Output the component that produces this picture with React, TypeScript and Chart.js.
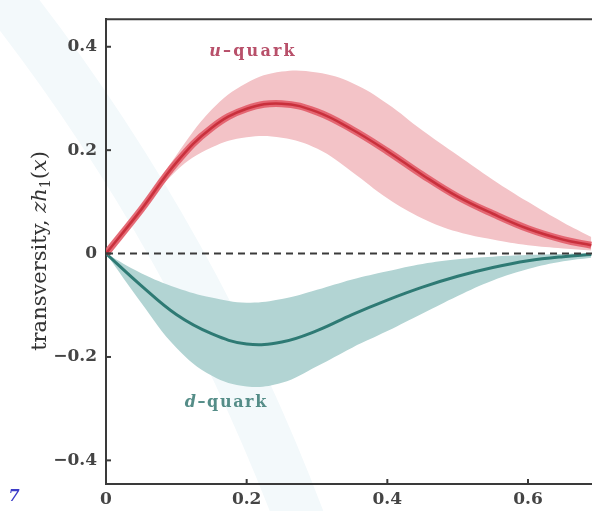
import React, { useEffect, useRef } from "react";
import { Chart, registerables } from "chart.js";

Chart.register(...registerables);

// ---- data ----
const xs = [0, 0.05, 0.1, 0.15, 0.2, 0.25, 0.3, 0.35, 0.4, 0.45, 0.5, 0.55, 0.6, 0.65, 0.69];
const uCenter = [0, 0.085, 0.176, 0.243, 0.28, 0.29, 0.274, 0.24, 0.198, 0.152, 0.11, 0.077, 0.048, 0.027, 0.016];
const uUpper = [0, 0.09, 0.19, 0.278, 0.33, 0.352, 0.35, 0.33, 0.29, 0.238, 0.19, 0.143, 0.1, 0.06, 0.032];
const uLower = [0, 0.078, 0.16, 0.205, 0.225, 0.224, 0.203, 0.158, 0.107, 0.068, 0.042, 0.027, 0.016, 0.01, 0.006];
const dCenter = [0, -0.062, -0.118, -0.155, -0.175, -0.171, -0.149, -0.118, -0.09, -0.065, -0.044, -0.027, -0.014, -0.006, -0.002];
const dUpper = [0, -0.038, -0.066, -0.085, -0.095, -0.088, -0.07, -0.05, -0.034, -0.02, -0.011, -0.006, -0.003, -0.001, 0];
const dLower = [0, -0.095, -0.182, -0.236, -0.257, -0.25, -0.218, -0.182, -0.15, -0.116, -0.082, -0.052, -0.03, -0.015, -0.008];
const xTicks = [0, 0.2, 0.4, 0.6];
const yTicks = [-0.4, -0.2, 0, 0.2, 0.4];
const xRange = [0, 0.691];
const yRange = [-0.4457, 0.4533];
const labels = [
  { lead: "u", rest: "\u2013quark", x: 0.209, y: 0.39, color: "#b8506a", spacing: 2.2 },
  { lead: "d", rest: "\u2013quark", x: 0.171, y: -0.289, color: "#558d88", spacing: 1.6 },
];

const pts = (ys: number[]) => xs.map((x, i) => ({ x, y: ys[i] }));

const fmt = (v: number) => {
  if (Math.abs(v) < 1e-9) return "0";
  const s = Math.abs(v).toFixed(1);
  return v < 0 ? "\u2212" + s : s;
};

const TICK_FONT = { family: "'DejaVu Serif', serif", size: 17, weight: "bold" as const };

const decorPlugin = {
  id: "decor",
  beforeDraw(chart: any) {
    const { ctx, width, height } = chart;
    ctx.save();
    ctx.fillStyle = "#ffffff";
    ctx.fillRect(0, 0, width, height);
    // very faint watermark stripe of the scanned slide
    ctx.strokeStyle = "#f3f9fb";
    ctx.lineWidth = 50;
    ctx.lineCap = "round";
    ctx.beginPath();
    ctx.moveTo(0, -10);
    ctx.quadraticCurveTo(190, 230, 300, 520);
    ctx.stroke();
    ctx.restore();
  },
  afterDatasetsDraw(chart: any) {
    const { ctx, chartArea, scales } = chart;
    const x = scales.x;
    const y = scales.y;
    ctx.save();
    // zero dashed line
    const y0 = y.getPixelForValue(0);
    ctx.strokeStyle = "#3a3a3a";
    ctx.lineWidth = 2;
    ctx.setLineDash([7, 5]);
    ctx.beginPath();
    ctx.moveTo(chartArea.left, y0);
    ctx.lineTo(chartArea.right, y0);
    ctx.stroke();
    ctx.setLineDash([]);
    // curve labels
    ctx.textBaseline = "middle";
    ctx.textAlign = "left";
    for (const l of labels) {
      ctx.fillStyle = l.color;
      (ctx as any).letterSpacing = l.spacing + "px";
      ctx.font = "italic bold 16px 'DejaVu Serif', serif";
      const w1 = ctx.measureText(l.lead).width;
      ctx.font = "bold 16px 'DejaVu Serif', serif";
      const w2 = ctx.measureText(l.rest).width;
      const cx = x.getPixelForValue(l.x);
      const cy = y.getPixelForValue(l.y);
      const sx = cx - (w1 + w2) / 2;
      ctx.font = "italic bold 16px 'DejaVu Serif', serif";
      ctx.fillText(l.lead, sx, cy);
      ctx.font = "bold 16px 'DejaVu Serif', serif";
      ctx.fillText(l.rest, sx + w1, cy);
    }
    (ctx as any).letterSpacing = "0px";
    ctx.restore();
  },
  afterDraw(chart: any) {
    const { ctx, chartArea, scales } = chart;
    const x = scales.x;
    const y = scales.y;
    ctx.save();
    ctx.strokeStyle = "#3a3a3a";
    ctx.lineWidth = 2;
    // top frame line
    ctx.beginPath();
    ctx.moveTo(chartArea.left, chartArea.top);
    ctx.lineTo(chartArea.right, chartArea.top);
    ctx.stroke();
    // inward tick marks
    for (const v of yTicks) {
      const py = y.getPixelForValue(v);
      ctx.beginPath();
      ctx.moveTo(chartArea.left, py);
      ctx.lineTo(chartArea.left + 5, py);
      ctx.stroke();
    }
    for (const v of xTicks) {
      const px = x.getPixelForValue(v);
      ctx.beginPath();
      ctx.moveTo(px, chartArea.bottom);
      ctx.lineTo(px, chartArea.bottom - 5);
      ctx.stroke();
    }
    // y axis title with mixed styles
    ctx.translate(41, 251);
    ctx.rotate(-Math.PI / 2);
    ctx.fillStyle = "#333";
    ctx.textBaseline = "middle";
    const F = 21;
    const parts = [
      { t: "transversity, ", f: `${F}px 'DejaVu Serif', serif`, dy: 0 },
      { t: "zh", f: `italic ${F}px 'DejaVu Serif', serif`, dy: 0 },
      { t: "1", f: `${Math.round(F * 0.68)}px 'DejaVu Serif', serif`, dy: 5 },
      { t: "(", f: `${F}px 'DejaVu Serif', serif`, dy: 0 },
      { t: "x", f: `italic ${F}px 'DejaVu Serif', serif`, dy: 0 },
      { t: ")", f: `${F}px 'DejaVu Serif', serif`, dy: 0 },
    ];
    let total = 0;
    for (const p of parts) {
      ctx.font = p.f;
      total += ctx.measureText(p.t).width;
    }
    let xx = -total / 2;
    ctx.textAlign = "left";
    for (const p of parts) {
      ctx.font = p.f;
      ctx.fillText(p.t, xx, p.dy);
      xx += ctx.measureText(p.t).width;
    }
    ctx.restore();
    // slide page number artifact
    ctx.save();
    ctx.fillStyle = "#3c3cc8";
    ctx.font = "italic bold 16px 'DejaVu Serif', serif";
    ctx.textAlign = "center";
    ctx.textBaseline = "middle";
    ctx.fillText("7", 14, 497);
    ctx.restore();
  },
};

export default function App() {
  const ref = useRef<HTMLCanvasElement>(null);
  useEffect(() => {
    document.body.style.margin = "0";
    const canvas = ref.current;
    if (!canvas) return;
    const line = (data: number[], color: string, width: number, order: number) => ({
      data: pts(data),
      borderColor: color,
      borderWidth: width,
      pointRadius: 0,
      fill: false,
      tension: 0.4,
      order,
    });
    const edge = (data: number[], fill: any, bg: string | undefined) => ({
      data: pts(data),
      borderColor: "rgba(0,0,0,0)",
      borderWidth: 0,
      backgroundColor: bg,
      pointRadius: 0,
      fill,
      tension: 0.4,
      order: 3,
    });
    const chart = new Chart(canvas, {
      type: "line",
      data: {
        datasets: [
          line(uCenter, "#c9303c", 2.5, 0),
          line(uCenter, "rgba(226,92,104,0.9)", 7, 1),
          line(dCenter, "#2e7a74", 3, 1),
          edge(uUpper, "+1", "#f3c3c7"),
          edge(uLower, false, undefined),
          edge(dUpper, "+1", "#b2d4d3"),
          edge(dLower, false, undefined),
        ] as any,
      },
      options: {
        animation: false,
        responsive: true,
        maintainAspectRatio: false,
        layout: { padding: { top: 12, right: 0, left: 0, bottom: 0 } },
        plugins: {
          legend: { display: false },
          tooltip: { enabled: false },
          filler: { drawTime: "beforeDatasetsDraw" },
        } as any,
        scales: {
          x: {
            type: "linear",
            min: xRange[0],
            max: xRange[1],
            afterBuildTicks: (s: any) => {
              s.ticks = xTicks.map((v) => ({ value: v }));
            },
            afterFit: (s: any) => {
              s.height = 27;
            },
            grid: { display: false, drawTicks: false },
            border: { display: true, color: "#3a3a3a", width: 2 },
            ticks: {
              font: TICK_FONT,
              color: "#444",
              padding: 5,
              maxRotation: 0,
              autoSkip: false,
              callback: (v: any) => fmt(Number(v)),
            },
          },
          y: {
            type: "linear",
            min: yRange[0],
            max: yRange[1],
            afterBuildTicks: (s: any) => {
              s.ticks = yTicks.map((v) => ({ value: v }));
            },
            afterFit: (s: any) => {
              s.width = 106;
            },
            grid: { display: false, drawTicks: false },
            border: { display: true, color: "#3a3a3a", width: 2 },
            ticks: {
              font: TICK_FONT,
              color: "#444",
              padding: 9,
              autoSkip: false,
              callback: (v: any) => fmt(Number(v)),
            },
          },
        },
      },
      plugins: [decorPlugin],
    });
    return () => chart.destroy();
  }, []);
  return (
    <div style={{ position: "fixed", left: 0, top: 0, width: 592, height: 511 }}>
      <canvas ref={ref} width={592} height={511} />
    </div>
  );
}
